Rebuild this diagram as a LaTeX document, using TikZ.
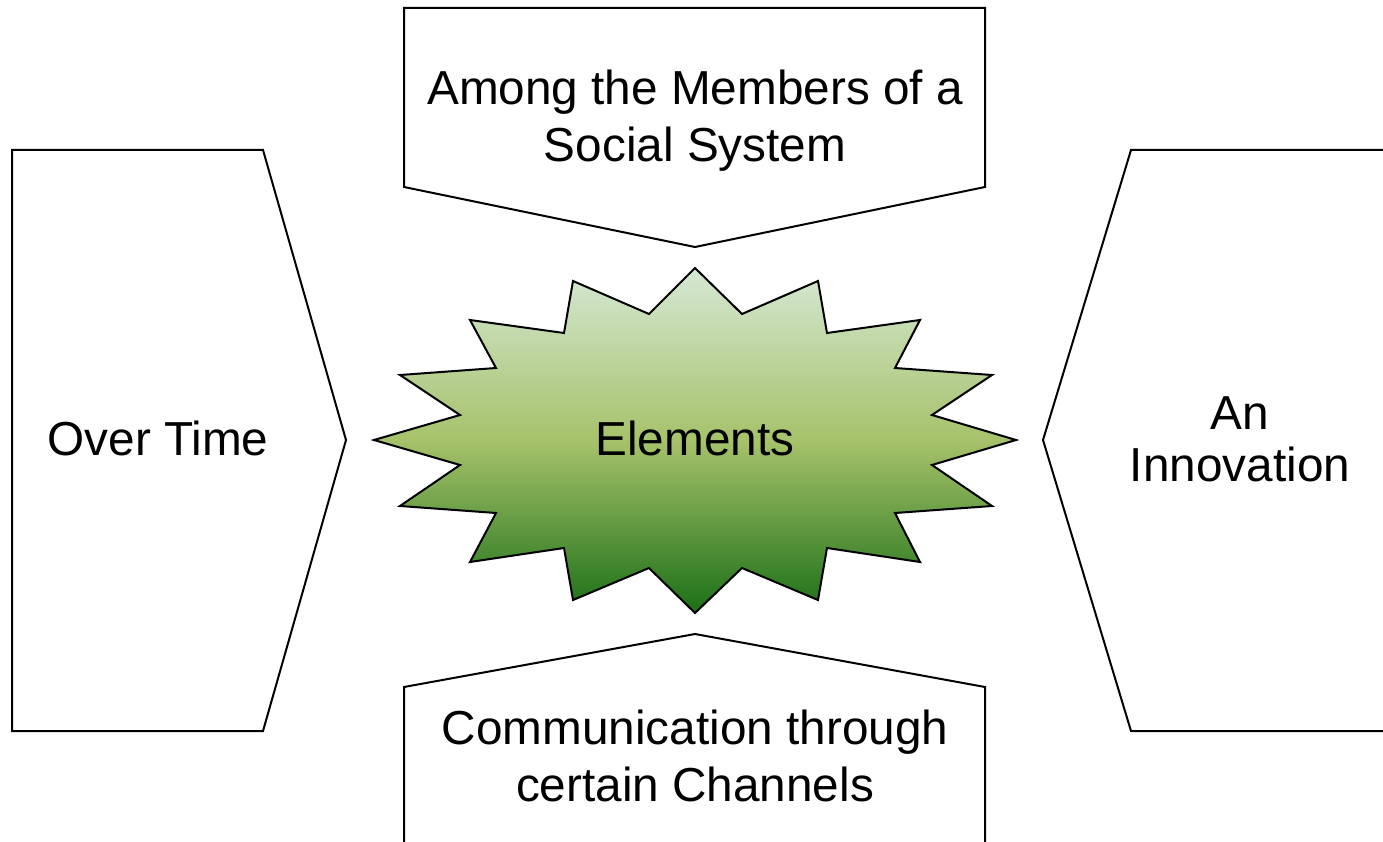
\documentclass[tikz,border=0pt]{standalone}
\usepackage{fontspec}
\setmainfont{Liberation Sans}
\definecolor{startop}{HTML}{D5E8D4}
\definecolor{starmid}{HTML}{A6C26A}
\definecolor{starbot}{HTML}{1B6F17}
\pgfdeclareverticalshading{burstshade}{100bp}{%
  color(0bp)=(starbot); color(25bp)=(starbot); color(50bp)=(starmid);
  color(75bp)=(startop); color(100bp)=(startop)}
\begin{document}
\begin{tikzpicture}[x=1pt,y=-1pt,
  panel/.style={draw=black, line width=2pt, fill=white, line join=miter},
  rim/.style={draw=black, line width=2pt, line join=miter},
  burst/.style={draw=black, line width=2pt, line join=miter, shading=burstshade},
  label/.style={font=\fontsize{47.7}{57.2}\selectfont, align=center, inner sep=0pt},
]
\useasboundingbox (0,0) rectangle (1383,842);
\clip (0,0) rectangle (1383,842);

% left pentagon pointing right
\path[panel] (12,150) -- (263,150) -- (346,440) -- (263,731) -- (12,731) -- cycle;
% right pentagon pointing left, running off the right edge
\path[fill=white] (1400,150) -- (1131,150) -- (1043,440) -- (1131,731) -- (1400,731) -- cycle;
\path[rim] (1400,150) -- (1131,150) -- (1043,440) -- (1131,731) -- (1400,731);
% top pentagon pointing down
\path[panel] (404,8) -- (985,8) -- (985,187) -- (695,247) -- (404,187) -- cycle;
% bottom pentagon pointing up, running off the bottom edge
\path[fill=white] (404,860) -- (404,687) -- (695,634) -- (985,687) -- (985,860) -- cycle;
\path[rim] (404,860) -- (404,687) -- (695,634) -- (985,687) -- (985,860);

% central starburst
\path[burst] (695,268) -- (742,314) -- (818,281) -- (827,333) -- (920,320) -- (895,368)
  -- (992,375) -- (932,415) -- (1016,440) -- (932,465) -- (992,506) -- (895,513)
  -- (920,562) -- (827,548) -- (818,600) -- (742,568) -- (695,613) -- (649,568)
  -- (573,600) -- (564,548) -- (470,562) -- (496,513) -- (400,506) -- (460,465)
  -- (374,440) -- (460,415) -- (400,375) -- (496,368) -- (470,320) -- (564,333)
  -- (573,281) -- (649,314) -- cycle;

\node[label, anchor=base] (elements) at (695,455) {Elements};
\node[label, anchor=base] (overtime) at (158,455) {Over Time};
\node[label, font=\fontsize{47.7}{52}\selectfont] (innovation) at (1240,439) {An\\Innovation};
\node[label] (members) at (695,121) {Among the Members of a\\Social System};
\node[label] (channels) at (695,756) {Communication through\\certain Channels};
\end{tikzpicture}
\end{document}
